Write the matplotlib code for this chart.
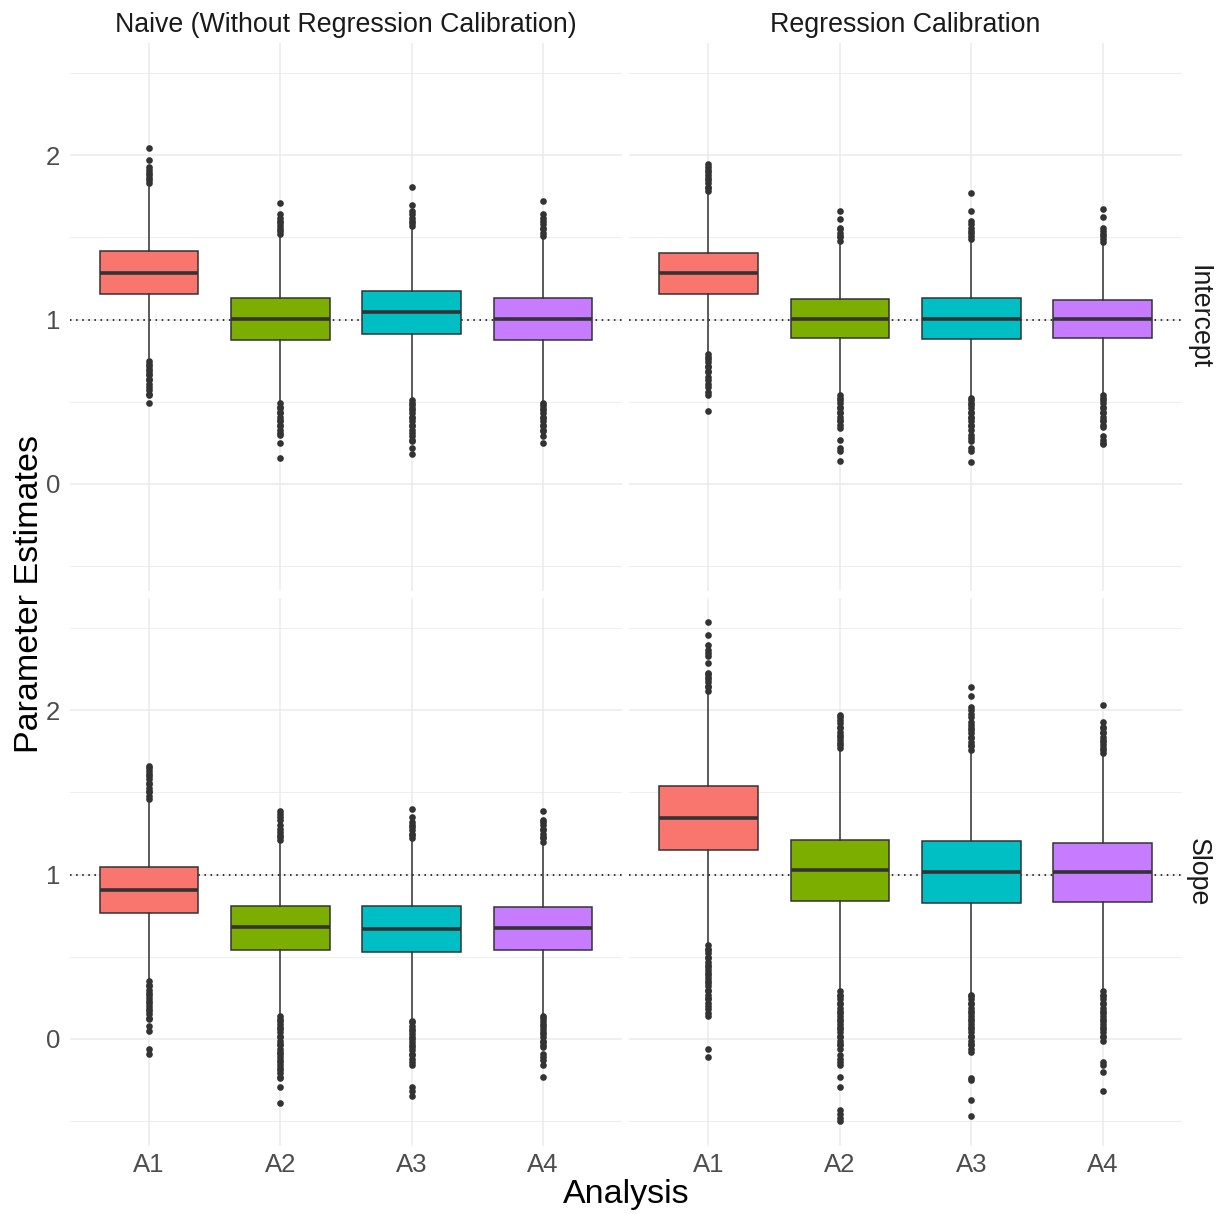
import matplotlib
matplotlib.use("Agg")
import matplotlib.pyplot as plt

plt.rcParams['font.family'] = ['Liberation Sans', 'DejaVu Sans']

analyses = ["A1", "A2", "A3", "A4"]
methods = ["Naive (Without Regression Calibration)", "Regression Calibration"]
params = ["Intercept", "Slope"]
fills = ["#F8766D", "#7CAE00", "#00BFC4", "#C77CFF"]
true_value = 1.0

# box summaries per analysis: (q1, median, q3, whisker low, whisker high)
naive_intercept = [
    (1.155, 1.286, 1.416, 0.765, 1.81),
    (0.876, 1.002, 1.130, 0.505, 1.51),
    (0.911, 1.045, 1.177, 0.52, 1.56),
    (0.874, 1.002, 1.130, 0.50, 1.50),
]
rc_intercept = [
    (1.158, 1.284, 1.406, 0.80, 1.77),
    (0.889, 1.006, 1.124, 0.55, 1.47),
    (0.883, 1.006, 1.132, 0.53, 1.48),
    (0.887, 1.004, 1.122, 0.55, 1.46),
]
naive_slope = [
    (0.769, 0.909, 1.045, 0.36, 1.45),
    (0.544, 0.680, 0.811, 0.15, 1.20),
    (0.530, 0.670, 0.809, 0.13, 1.21),
    (0.542, 0.677, 0.805, 0.15, 1.19),
]
rc_slope = [
    (1.148, 1.346, 1.540, 0.58, 2.11),
    (0.841, 1.031, 1.210, 0.30, 1.76),
    (0.829, 1.016, 1.202, 0.28, 1.75),
    (0.835, 1.016, 1.194, 0.30, 1.73),
]

# outlying estimates per analysis
naive_intercept_out = [
    [1.83, 1.85, 1.86, 1.88, 1.89, 1.91, 1.93, 1.97, 2.045,
     0.75, 0.73, 0.72, 0.70, 0.69, 0.67, 0.66, 0.64, 0.63, 0.61, 0.59, 0.57, 0.55, 0.54, 0.49],
    [1.52, 1.54, 1.55, 1.57, 1.59, 1.60, 1.62, 1.64, 1.71,
     0.49, 0.47, 0.46, 0.44, 0.43, 0.41, 0.39, 0.38, 0.36, 0.35, 0.33, 0.31, 0.30, 0.25, 0.16],
    [1.57, 1.59, 1.60, 1.62, 1.64, 1.66, 1.70, 1.81,
     0.51, 0.49, 0.48, 0.46, 0.45, 0.43, 0.41, 0.40, 0.38, 0.36, 0.35, 0.33, 0.31, 0.29, 0.27,
     0.26, 0.22, 0.18],
    [1.51, 1.53, 1.55, 1.56, 1.58, 1.60, 1.62, 1.64, 1.72,
     0.49, 0.48, 0.46, 0.45, 0.43, 0.41, 0.40, 0.38, 0.36, 0.35, 0.33, 0.32, 0.29, 0.25],
]
rc_intercept_out = [
    [1.78, 1.80, 1.81, 1.83, 1.85, 1.86, 1.88, 1.90, 1.91, 1.93, 1.95,
     0.79, 0.77, 0.76, 0.74, 0.72, 0.71, 0.69, 0.68, 0.65, 0.63, 0.61, 0.59, 0.56, 0.54, 0.446],
    [1.48, 1.50, 1.51, 1.53, 1.55, 1.56, 1.61, 1.66,
     0.54, 0.52, 0.51, 0.49, 0.47, 0.46, 0.44, 0.43, 0.41, 0.39, 0.38, 0.36, 0.34, 0.27, 0.22,
     0.20, 0.14],
    [1.49, 1.51, 1.53, 1.54, 1.56, 1.58, 1.60, 1.66, 1.77,
     0.52, 0.51, 0.49, 0.48, 0.46, 0.44, 0.43, 0.41, 0.40, 0.38, 0.36, 0.35, 0.33, 0.30, 0.28,
     0.26, 0.22, 0.20, 0.136],
    [1.47, 1.49, 1.51, 1.52, 1.54, 1.56, 1.625, 1.676,
     0.54, 0.52, 0.51, 0.49, 0.47, 0.46, 0.44, 0.43, 0.41, 0.39, 0.38, 0.36, 0.345, 0.29, 0.27,
     0.25, 0.24],
]
naive_slope_out = [
    [1.46, 1.48, 1.50, 1.51, 1.53, 1.55, 1.56, 1.58, 1.60, 1.61, 1.63, 1.65, 1.66,
     0.35, 0.33, 0.32, 0.30, 0.28, 0.27, 0.25, 0.23, 0.22, 0.20, 0.18, 0.17, 0.15, 0.13, 0.12,
     0.08, 0.05, -0.06, -0.09],
    [1.21, 1.23, 1.24, 1.26, 1.28, 1.30, 1.33, 1.35, 1.37, 1.39,
     0.14, 0.12, 0.11, 0.09, 0.07, 0.06, 0.04, 0.02, 0.01, -0.01, -0.03, -0.04, -0.06, -0.08,
     -0.09, -0.11, -0.13, -0.14, -0.16, -0.18, -0.19, -0.21, -0.23, -0.24, -0.29, -0.39],
    [1.22, 1.24, 1.25, 1.27, 1.29, 1.30, 1.32, 1.35, 1.40,
     0.11, 0.10, 0.08, 0.06, 0.05, 0.03, 0.01, 0.00, -0.02, -0.04, -0.05, -0.07, -0.09, -0.10,
     -0.12, -0.14, -0.16, -0.29, -0.32, -0.35],
    [1.20, 1.22, 1.23, 1.25, 1.27, 1.28, 1.30, 1.32, 1.33, 1.39,
     0.14, 0.13, 0.11, 0.09, 0.08, 0.06, 0.04, 0.03, 0.01, -0.01, -0.02, -0.04, -0.05, -0.09,
     -0.11, -0.13, -0.16, -0.23],
]
rc_slope_out = [
    [2.12, 2.14, 2.15, 2.17, 2.19, 2.20, 2.22, 2.23, 2.29, 2.33, 2.35, 2.37, 2.40, 2.46, 2.535,
     0.57, 0.55, 0.54, 0.52, 0.50, 0.49, 0.47, 0.45, 0.44, 0.42, 0.40, 0.39, 0.37, 0.35, 0.34,
     0.32, 0.30, 0.29, 0.27, 0.25, 0.24, 0.22, 0.20, 0.18, 0.16, 0.14, -0.06, -0.11],
    [1.77, 1.79, 1.80, 1.82, 1.84, 1.85, 1.87, 1.89, 1.90, 1.92, 1.94, 1.96, 1.97,
     0.29, 0.27, 0.26, 0.24, 0.22, 0.21, 0.19, 0.17, 0.16, 0.14, 0.12, 0.11, 0.09, 0.07, 0.06,
     0.04, 0.02, 0.01, -0.01, -0.03, -0.04, -0.06, -0.10, -0.12, -0.14, -0.16, -0.23, -0.29,
     -0.43, -0.46, -0.48, -0.50],
    [1.76, 1.78, 1.79, 1.81, 1.83, 1.84, 1.86, 1.88, 1.89, 1.91, 1.93, 1.96, 1.98, 2.00, 2.02,
     2.09, 2.14,
     0.27, 0.26, 0.24, 0.22, 0.21, 0.19, 0.17, 0.16, 0.14, 0.12, 0.11, 0.09, 0.07, 0.06, 0.04,
     0.02, 0.01, -0.01, -0.03, -0.04, -0.06, -0.08, -0.24, -0.25, -0.37, -0.47],
    [1.74, 1.76, 1.77, 1.79, 1.81, 1.82, 1.84, 1.86, 1.87, 1.89, 1.90, 1.93, 2.03,
     0.29, 0.27, 0.26, 0.24, 0.22, 0.21, 0.19, 0.17, 0.16, 0.14, 0.12, 0.11, 0.09, 0.07, 0.06,
     0.04, 0.02, 0.01, -0.01, -0.14, -0.16, -0.20, -0.32],
]

panels = {
    (0, 0): (naive_intercept, naive_intercept_out),
    (0, 1): (rc_intercept, rc_intercept_out),
    (1, 0): (naive_slope, naive_slope_out),
    (1, 1): (rc_slope, rc_slope_out),
}

# shared y scale with 5% padding, as in the faceted layout
all_vals = []
for summ, outs in panels.values():
    for s, o in zip(summ, outs):
        all_vals += list(s) + list(o)
lo, hi = min(all_vals), max(all_vals)
pad = (hi - lo) * 0.05
ylim = (lo - pad, hi + pad)

W, H = 1217, 1214
fig = plt.figure(figsize=(W / 100, H / 100), dpi=100)

col_x = [70, 629.5]
col_w = 552
row_top = [42.5, 597.5]
row_h = 548.5

grid_col = "#EBEBEB"
edge = "#333333"

for (r, c), (summ, outs) in panels.items():
    ax = fig.add_axes([col_x[c] / W, 1 - (row_top[r] + row_h) / H, col_w / W, row_h / H])
    stats = []
    for name, s, o in zip(analyses, summ, outs):
        q1, med, q3, wlo, whi = s
        stats.append(dict(label=name, q1=q1, med=med, q3=q3, whislo=wlo, whishi=whi, fliers=o))
    bp = ax.bxp(stats, positions=[1, 2, 3, 4], widths=0.75, patch_artist=True,
                showcaps=False,
                boxprops=dict(edgecolor=edge, linewidth=1.1),
                whiskerprops=dict(color=edge, linewidth=1.1),
                medianprops=dict(color=edge, linewidth=2.6),
                flierprops=dict(marker='o', markersize=4.8, markerfacecolor=edge,
                                markeredgecolor='none'))
    for patch, col in zip(bp['boxes'], fills):
        patch.set_facecolor(col)
    ax.axhline(true_value, color='black', linestyle=(0, (1, 3)), linewidth=1.1, zorder=1.5)

    ax.set_xlim(0.4, 4.6)
    ax.set_ylim(*ylim)
    ax.set_yticks([0, 1, 2])
    ax.set_yticks([-0.5, 0.5, 1.5, 2.5], minor=True)
    ax.set_xticks([1, 2, 3, 4])
    ax.set_axisbelow(True)
    ax.grid(which='major', color=grid_col, linewidth=1.1)
    ax.grid(which='minor', axis='y', color=grid_col, linewidth=0.6)
    for sp in ax.spines.values():
        sp.set_visible(False)
    ax.tick_params(which='both', length=0, labelsize=18.5, labelcolor='#4D4D4D')
    ax.tick_params(axis='y', pad=7)
    ax.tick_params(axis='x', pad=5)
    if r == 1:
        ax.set_xticklabels(analyses)
    else:
        ax.set_xticklabels([])
    if c == 0:
        ax.set_yticklabels(["0", "1", "2"])
    else:
        ax.set_yticklabels([])

# facet strips
for c, name in enumerate(methods):
    fig.text((col_x[c] + col_w / 2) / W, 1 - 25 / H, name, ha='center', va='center',
             fontsize=19.3, color='#1A1A1A')
for r, name in enumerate(params):
    fig.text(1198 / W, 1 - (row_top[r] + row_h / 2) / H, name, ha='center', va='center',
             rotation=-90, fontsize=19.3, color='#1A1A1A')

fig.text((70 + 1182) / 2 / W, 1 - 1195 / H, "Analysis", ha='center', va='center',
         fontsize=24.5, color='black')
fig.text(30 / W, 1 - 594 / H, "Parameter Estimates", ha='center', va='center',
         rotation=90, fontsize=24.5, color='black')

fig.savefig("out.png", dpi=100, facecolor='white')
